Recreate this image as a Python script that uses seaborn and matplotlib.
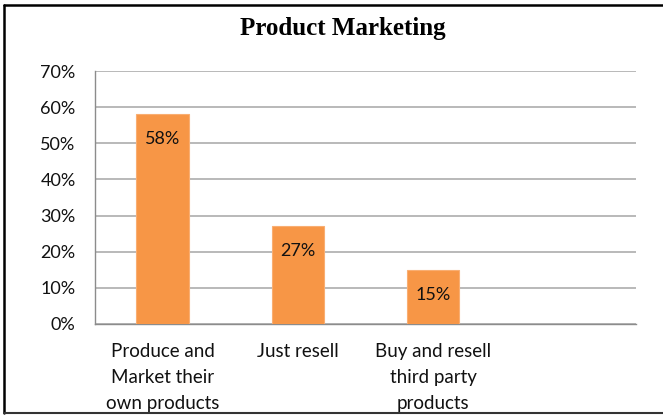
import matplotlib
matplotlib.use('Agg')
import matplotlib.pyplot as plt
import seaborn as sns
import pandas as pd
from matplotlib.lines import Line2D
from matplotlib.ticker import FixedLocator, FuncFormatter

categories = ["Produce and\nMarket their\nown products", "Just resell", "Buy and resell\nthird party\nproducts"]
values = [58, 27, 15]
value_labels = ["58%", "27%", "15%"]
y_ticks = [0, 10, 20, 30, 40, 50, 60, 70]
title = "Product Marketing"

sns.set_style("white")
plt.rcParams['font.family'] = ['Lato', 'DejaVu Sans']

W, H = 663, 416
fig = plt.figure(figsize=(W / 100, H / 100), dpi=100)
ax = fig.add_axes([95 / W, (H - 324) / H, (636 - 95) / W, (324 - 71) / H])

df = pd.DataFrame({"cat": categories, "val": values})
sns.barplot(data=df, x="cat", y="val", ax=ax, color="#F79646", width=0.39,
            edgecolor="#F9AE72", linewidth=0.8, saturation=1, zorder=3)

ax.set_xlim(-0.5, 3.5)
ax.set_ylim(0, 70)
ax.set_yticks(y_ticks)
ax.yaxis.set_major_formatter(FuncFormatter(lambda v, p: f"{int(v)}%"))
ax.yaxis.grid(True, color="#A6A6A6", linewidth=1.1, zorder=0)
ax.set_axisbelow(True)

ax.set_xticks(range(len(categories)))
ax.set_xticklabels(categories, fontsize=13.5, linespacing=1.62, va='top')
ax.xaxis.set_minor_locator(FixedLocator([-0.5, 0.5, 1.5, 2.5, 3.5]))
ax.tick_params(axis='x', which='major', length=0, pad=14, colors='#111111')
ax.tick_params(axis='x', which='minor', length=6, width=1, color='#8C8C8C', direction='out')
ax.tick_params(axis='y', which='major', length=6, width=1, color='#8C8C8C', direction='out',
               labelsize=13, pad=8, labelcolor='#111111')
ax.set_xlabel("")
ax.set_ylabel("")

for s in ['top', 'right']:
    ax.spines[s].set_visible(False)
for s in ['left', 'bottom']:
    ax.spines[s].set_color('#8C8C8C')
    ax.spines[s].set_linewidth(1)

for i, (v, lab) in enumerate(zip(values, value_labels)):
    ax.annotate(lab, xy=(i, v), xytext=(0, -18), textcoords='offset points',
                ha='center', va='center', fontsize=13, color='#111111', zorder=5)

fig.text(343 / W, 1 - 28 / H, title, ha='center', va='center',
         fontsize=18, fontweight='bold', family='Liberation Serif', color='black')

# outer frame (top, left, bottom)
fig.add_artist(Line2D([4 / W, 1], [1 - 5 / H, 1 - 5 / H], transform=fig.transFigure,
                      color='black', linewidth=1.8))
fig.add_artist(Line2D([4 / W, 4 / W], [1 - 5 / H, 3 / H], transform=fig.transFigure,
                      color='black', linewidth=1.8))
fig.add_artist(Line2D([4 / W, 1], [3 / H, 3 / H], transform=fig.transFigure,
                      color='#333333', linewidth=1.5))

fig.savefig("out.png", dpi=100)
